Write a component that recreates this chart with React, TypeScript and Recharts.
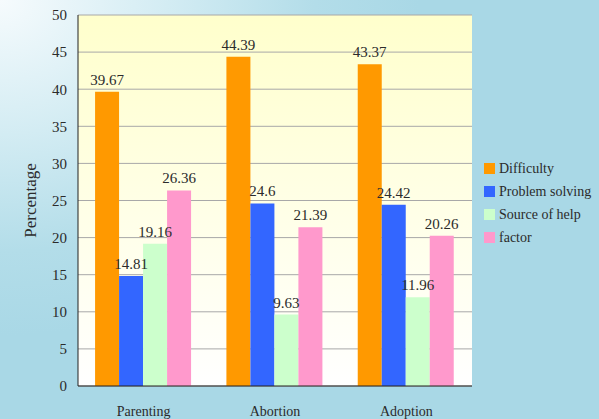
import { BarChart, Bar, XAxis, YAxis, CartesianGrid, LabelList, Label } from "recharts"

const categories = ["Parenting", "Abortion", "Adoption"]
const difficulty = [39.67, 44.39, 43.37]
const problemSolving = [14.81, 24.6, 24.42]
const sourceOfHelp = [19.16, 9.63, 11.96]
const factor = [26.36, 21.39, 20.26]
const yTicks = [0, 5, 10, 15, 20, 25, 30, 35, 40, 45, 50]

const series = [
  { key: "difficulty", name: "Difficulty", color: "#ff9900" },
  { key: "problemSolving", name: "Problem solving", color: "#3366ff" },
  { key: "sourceOfHelp", name: "Source of help", color: "#ccffcc" },
  { key: "factor", name: "factor", color: "#ff99cc" },
]

const data = categories.map((name, i) => ({
  name,
  difficulty: difficulty[i],
  problemSolving: problemSolving[i],
  sourceOfHelp: sourceOfHelp[i],
  factor: factor[i],
}))

const font = "Times New Roman, Liberation Serif, serif"
const textColor = "#2b2b2b"

export default function App() {
  return (
    <div
      style={{
        position: "absolute",
        left: 0,
        top: 0,
        width: 599,
        height: 419,
        overflow: "hidden",
        fontFamily: font,
        background:
          "radial-gradient(ellipse 70% 80% at 0% 0%, #f6fbfd 0%, #d3ecf3 40%, #b3dde9 75%, #a9d8e6 100%)",
      }}
    >
      <BarChart
        width={599}
        height={419}
        data={data}
        margin={{ top: 15, right: 127, left: 0, bottom: 0 }}
        barCategoryGap="13%"
        barGap={0}
        style={{ fontFamily: font }}
      >
        <defs>
          <linearGradient id="plotBg" x1="0" y1="0" x2="0" y2="1">
            <stop offset="0%" stopColor="#ffffcc" />
            <stop offset="100%" stopColor="#ffffff" />
          </linearGradient>
        </defs>
        <CartesianGrid vertical={false} stroke="#a8a8a8" fill="url(#plotBg)" fillOpacity={1} />
        <XAxis
          dataKey="name"
          height={33}
          axisLine={{ stroke: "#222" }}
          tickLine={false}
          tickSize={0}
          tickMargin={20}
          tick={{ fill: textColor, fontSize: 14, fontFamily: font }}
        />
        <XAxis
          xAxisId="bounds"
          type="number"
          domain={[0, 3]}
          ticks={[1, 2]}
          height={0}
          mirror
          axisLine={false}
          tick={false}
          tickSize={5}
          tickLine={{ stroke: "#222" }}
        />
        <YAxis
          domain={[0, 50]}
          ticks={yTicks}
          width={78}
          axisLine={{ stroke: "#222" }}
          tickLine={false}
          tickSize={0}
          tickMargin={11}
          tick={{ fill: textColor, fontSize: 15, fontFamily: font }}
          interval={0}
        >
          <Label
            content={({ viewBox }: any) => (
              <text
                x={30}
                y={viewBox.y + viewBox.height / 2}
                transform={`rotate(-90, 30, ${viewBox.y + viewBox.height / 2})`}
                textAnchor="middle"
                dominantBaseline="central"
                fill={textColor}
                fontSize={17}
                fontFamily={font}
              >
                Percentage
              </text>
            )}
          />
        </YAxis>
        <YAxis
          yAxisId="right"
          orientation="right"
          width={0}
          domain={[0, 50]}
          axisLine={{ stroke: "#999" }}
          tick={false}
          tickLine={false}
        />
        {series.map((s) => (
          <Bar key={s.key} dataKey={s.key} name={s.name} fill={s.color} isAnimationActive={false}>
            <LabelList
              dataKey={s.key}
              position="top"
              offset={7}
              fill={textColor}
              fontSize={15}
              fontFamily={font}
            />
          </Bar>
        ))}
      </BarChart>
      {/* Legend */}
      <div style={{ position: "absolute", left: 484, top: 157, fontFamily: font }}>
        {series.map((s) => (
          <div key={s.key} style={{ display: "flex", alignItems: "center", height: 23 }}>
            <div style={{ width: 11, height: 11, backgroundColor: s.color }} />
            <span style={{ marginLeft: 4, fontSize: 14, color: textColor }}>{s.name}</span>
          </div>
        ))}
      </div>
    </div>
  )
}
